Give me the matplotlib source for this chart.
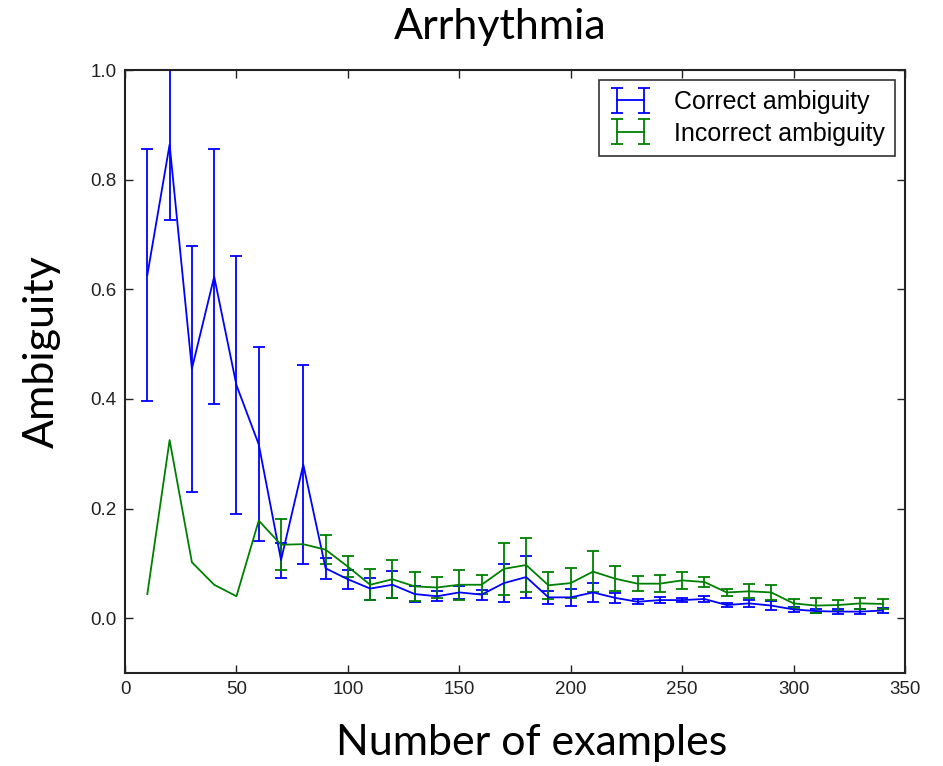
import numpy as np
import matplotlib
matplotlib.use("Agg")
import matplotlib.pyplot as plt

# number of training examples
n_examples = [10, 20, 30, 40, 50, 60, 70, 80, 90, 100, 110, 120, 130, 140, 150, 160, 170,
              180, 190, 200, 210, 220, 230, 240, 250, 260, 270, 280, 290, 300, 310, 320, 330, 340]

correct_mean = [0.626, 0.864, 0.455, 0.623, 0.425, 0.317, 0.106, 0.280, 0.091, 0.071, 0.054,
                0.061, 0.044, 0.040, 0.047, 0.043, 0.064, 0.075, 0.038, 0.038, 0.047, 0.037,
                0.030, 0.033, 0.033, 0.035, 0.024, 0.027, 0.023, 0.016, 0.013, 0.012, 0.012, 0.014]
correct_err = [0.230, 0.137, 0.224, 0.232, 0.235, 0.177, 0.032, 0.182, 0.019, 0.017, 0.020,
               0.025, 0.014, 0.009, 0.012, 0.009, 0.034, 0.038, 0.012, 0.015, 0.017, 0.009,
               0.005, 0.006, 0.004, 0.005, 0.003, 0.007, 0.008, 0.004, 0.004, 0.004, 0.004, 0.004]

incorrect_mean = [0.044, 0.325, 0.102, 0.061, 0.040, 0.178, 0.134, 0.135, 0.125, 0.094, 0.061,
                  0.071, 0.058, 0.056, 0.061, 0.061, 0.090, 0.097, 0.060, 0.064, 0.085, 0.072,
                  0.063, 0.063, 0.069, 0.066, 0.047, 0.049, 0.047, 0.027, 0.023, 0.024, 0.027, 0.026]
# no spread measured for the smallest sample sizes
incorrect_err = [np.nan, np.nan, np.nan, np.nan, np.nan, np.nan, 0.047, np.nan, 0.027, 0.019, 0.028,
                 0.035, 0.027, 0.020, 0.027, 0.017, 0.047, 0.050, 0.025, 0.028, 0.037, 0.023,
                 0.014, 0.016, 0.015, 0.009, 0.006, 0.013, 0.014, 0.008, 0.013, 0.010, 0.010, 0.009]

plt.rcParams["font.family"] = ["Liberation Sans", "DejaVu Sans"]
plt.rcParams["legend.numpoints"] = 2

fig = plt.figure(figsize=(9.43, 7.66), dpi=100)
ax = fig.add_axes([0.1326, 0.1214, 0.8271, 0.7872])

ax.errorbar(n_examples, correct_mean, yerr=correct_err, color="b", lw=1.3,
            elinewidth=1.3, capsize=4, capthick=1.3, label="Correct ambiguity")
ax.errorbar(n_examples, incorrect_mean, yerr=incorrect_err, color="g", lw=1.3,
            elinewidth=1.3, capsize=4, capthick=1.3, label="Incorrect ambiguity")

ax.set_xlim(0, 350)
ax.set_ylim(-0.1, 1.0)
ax.set_xticks(np.arange(0, 351, 50))
ax.set_yticks([0.0, 0.2, 0.4, 0.6, 0.8, 1.0])
ax.set_yticklabels(["0.0", "0.2", "0.4", "0.6", "0.8", "1.0"])
ax.tick_params(direction="in", top=True, right=True, length=6, width=1,
               labelsize=13.5, colors="#222222", pad=6)
for sp in ax.spines.values():
    sp.set_linewidth(1.5)
    sp.set_color("#222222")

leg = ax.legend(loc="upper right", fontsize=18, frameon=True, fancybox=False,
                edgecolor="black", handlelength=1.7, handletextpad=0.9,
                borderaxespad=0.4, labelspacing=0.3)
leg.get_frame().set_linewidth(1.2)

# big labels in a Calibri-like face
big = dict(family=["Lato", "DejaVu Sans"], fontsize=31, color="black")
fig.text(500 / 943, 1 - 27 / 766, "Arrhythmia", ha="center", va="center", **big)
fig.text(532 / 943, 1 - 743 / 766, "Number of examples", ha="center", va="center", **big)
fig.text(42 / 943, 1 - 352 / 766, "Ambiguity", ha="center", va="center",
         rotation=90, **big)

fig.savefig("out.png", dpi=100)
